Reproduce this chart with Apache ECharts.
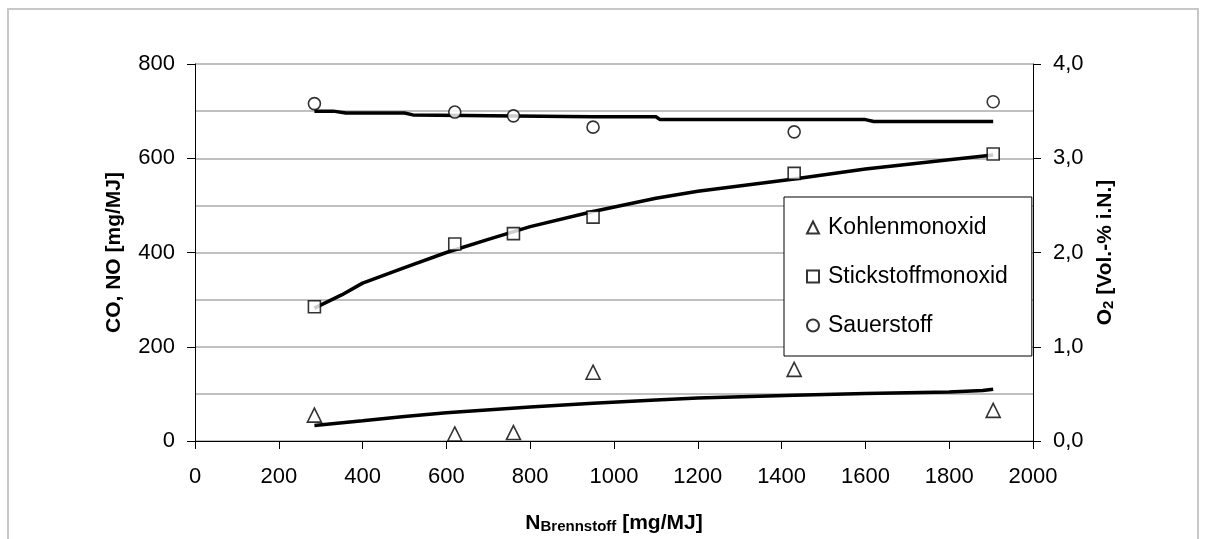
<!DOCTYPE html>
<html>
<head>
<meta charset="utf-8">
<script src="https://cdn.jsdelivr.net/npm/echarts@6/dist/echarts.min.js"></script>
<style>
  html,body{margin:0;padding:0;background:#fff;}
  #frame{position:absolute;left:7px;top:8px;width:1192px;height:560px;border:2px solid #c8c8c8;box-sizing:border-box;}
  #chart{position:absolute;left:0;top:0;width:1208px;height:539px;}
</style>
</head>
<body>
<div id="frame"></div>
<div id="chart"></div>
<script>
// measured points (same N for all three gases)
var N_FUEL = [285, 620, 760, 950, 1430, 1905];
var CO_VAL = [55, 15, 18, 146, 152, 65];
var NO_VAL = [285, 418, 440, 475, 568, 609];
var O2_VAL = [3.58, 3.49, 3.45, 3.33, 3.28, 3.60];

// trend lines
var CO_FIT_X = [285, 400, 500, 600, 800, 950, 1100, 1200, 1430, 1600, 1800, 1880, 1905];
var CO_FIT_Y = [33, 43, 52, 60, 72, 80, 87, 91, 97, 101, 104, 107, 110];
var NO_FIT_X = [285, 350, 400, 500, 600, 700, 800, 950, 1100, 1200, 1430, 1600, 1800, 1905];
var NO_FIT_Y = [282, 310, 335, 368, 400, 428, 455, 487, 515, 530, 556, 577, 597, 607];
var O2_FIT_X = [285, 330, 360, 500, 520, 950, 1100, 1110, 1600, 1620, 1905];
var O2_FIT_Y = [3.50, 3.50, 3.48, 3.48, 3.46, 3.44, 3.44, 3.41, 3.41, 3.39, 3.39];

function pairs(xs, ys){ return xs.map(function(x, i){ return [x, ys[i]]; }); }

var FONT = 'Liberation Sans';
var chart = echarts.init(document.getElementById('chart'), null, {renderer:'canvas'});

function markers(name, sym, size, ys, yIdx){
  return {
    name:name, type:'scatter', yAxisIndex:yIdx, symbol:sym, symbolSize:size,
    itemStyle:{ color:'#fff', borderColor:'#000', borderWidth:1.6 },
    data:pairs(N_FUEL, ys), z:5
  };
}
function trend(xs, ys, yIdx){
  return {
    type:'line', yAxisIndex:yIdx, showSymbol:false, symbol:'none', silent:true,
    lineStyle:{ color:'#000', width:3.5 }, data:pairs(xs, ys), z:4
  };
}

chart.setOption({
  animation:false,
  textStyle:{ fontFamily:FONT },
  grid:{ left:195, right:175, top:64, bottom:89.5 },
  legend:{
    orient:'vertical', left:784, top:197,
    data:['Kohlenmonoxid','Stickstoffmonoxid','Sauerstoff'],
    backgroundColor:'#fff', borderColor:'#000', borderWidth:1,
    padding:[19, 24, 19, 22], itemGap:26, itemWidth:12, itemHeight:12,
    textStyle:{ fontFamily:FONT, fontSize:23, color:'#000', padding:[0,0,0,4] }
  },
  xAxis:{
    type:'value', min:0, max:2000, interval:200,
    name:'{n|N}{s|Brennstoff}{n| [mg/MJ]}', nameLocation:'middle', nameGap:70,
    nameTextStyle:{ rich:{
      n:{ fontFamily:FONT, fontSize:21, fontWeight:'bold', color:'#000', verticalAlign:'bottom' },
      s:{ fontFamily:FONT, fontSize:15, fontWeight:'bold', color:'#000', padding:[8,0,0,0], verticalAlign:'bottom' }
    }},
    axisLine:{ lineStyle:{ color:'#000', width:1 } },
    axisTick:{ length:8, lineStyle:{ color:'#000' } },
    axisLabel:{ fontFamily:FONT, fontSize:22, color:'#000', margin:25,
      formatter:function(v){ return String(v); } },
    splitLine:{ show:false }
  },
  yAxis:[{
    type:'value', min:0, max:800, interval:200, position:'left',
    name:'CO, NO [mg/MJ]', nameLocation:'middle', nameRotate:90, nameGap:70,
    nameTextStyle:{ fontFamily:FONT, fontSize:21, fontWeight:'bold', color:'#000' },
    axisLine:{ show:true, lineStyle:{ color:'#000', width:1 } },
    axisTick:{ show:true, length:8, lineStyle:{ color:'#000' } },
    axisLabel:{ fontFamily:FONT, fontSize:22, color:'#000', margin:20,
      formatter:function(v){ return String(v); } },
    splitLine:{ show:true, lineStyle:{ color:'#c0c0c0', width:2 } },
    minorTick:{ show:false, splitNumber:2 },
    minorSplitLine:{ show:true, lineStyle:{ color:'#c0c0c0', width:2 } }
  },{
    type:'value', min:0, max:4, interval:1, position:'right',
    name:'{n|O}{s|2}{n| [Vol.-% i.N.]}', nameLocation:'middle', nameRotate:90, nameGap:60,
    nameTextStyle:{ rich:{
      n:{ fontFamily:FONT, fontSize:21, fontWeight:'bold', color:'#000', verticalAlign:'bottom' },
      s:{ fontFamily:FONT, fontSize:15, fontWeight:'bold', color:'#000', padding:[8,0,0,0], verticalAlign:'bottom' }
    }},
    axisLine:{ show:true, lineStyle:{ color:'#000', width:1 } },
    axisTick:{ show:true, length:8, lineStyle:{ color:'#000' } },
    axisLabel:{ fontFamily:FONT, fontSize:22, color:'#000', margin:20,
      formatter:function(v){ return v.toFixed(1).replace('.', ','); } },
    splitLine:{ show:false }
  }],
  series:[
    trend(CO_FIT_X, CO_FIT_Y, 0),
    trend(NO_FIT_X, NO_FIT_Y, 0),
    trend(O2_FIT_X, O2_FIT_Y, 1),
    markers('Kohlenmonoxid', 'triangle', 14, CO_VAL, 0),
    markers('Stickstoffmonoxid', 'rect', 12, NO_VAL, 0),
    markers('Sauerstoff', 'circle', 12, O2_VAL, 1)
  ]
});
</script>
</body>
</html>
